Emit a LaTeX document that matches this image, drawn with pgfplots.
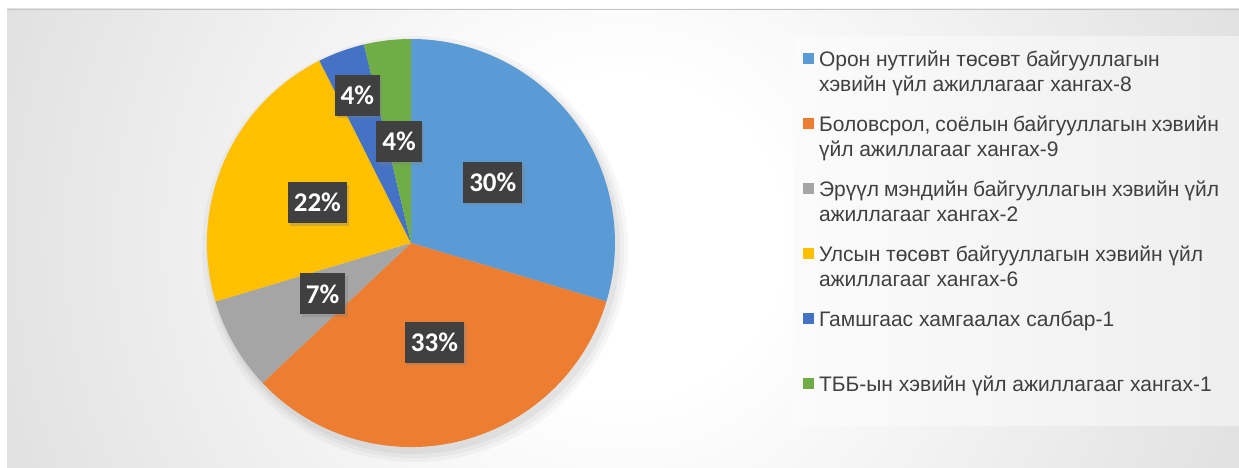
\documentclass[border=0pt]{standalone}
\usepackage{fontspec}
\setmainfont{Liberation Sans}
\newfontfamily\carlito{Carlito}
\usepackage{pgfplots}
\pgfplotsset{compat=1.18}
\usepackage{pgfplotstable}
\usetikzlibrary{shadows}

\definecolor{pie0}{HTML}{5B9BD5}
\definecolor{pie1}{HTML}{ED7D31}
\definecolor{pie2}{HTML}{A5A5A5}
\definecolor{pie3}{HTML}{FFC000}
\definecolor{pie4}{HTML}{4472C4}
\definecolor{pie5}{HTML}{70AD47}
\definecolor{legtext}{HTML}{404040}
\definecolor{lblfill}{HTML}{404040}

\pgfdeclareradialshading{bgshade}{\pgfpoint{0bp}{0bp}}{color(0bp)=(white); color(6bp)=(white); color(23.5bp)=(gray!22); color(25bp)=(gray!24); color(50bp)=(gray!30)}

% value = number of organisations, lr = label distance from centre (fraction of radius)
\pgfplotstableread{
value lr
8 0.5
9 0.5
2 0.5
6 0.5
1 0.77
1 0.5
}\piedata

\tikzset{pctlabel/.style={fill=lblfill, text=white,
  font=\carlito\bfseries\fontsize{27}{30}\selectfont,
  inner xsep=6pt, inner ysep=0pt, minimum height=41pt,
  drop shadow={opacity=0.35, shadow xshift=2.5pt, shadow yshift=-2.5pt}}}

\begin{document}
\begin{tikzpicture}[x=1pt,y=1pt]
\fill[white] (0,0) rectangle (1239,468);
\begin{scope}
\clip (7,0) rectangle (1239,459);
\shade[shading=bgshade] (-37,-430) rectangle (1283,890);
\end{scope}
\draw[gray!45, line width=0.8pt] (7,459) -- (1239,459);
\shade[left color=gray!3, right color=gray!13] (794,42) rectangle (1239,431);

\pgfmathsetmacro{\total}{0}
\pgfplotstableforeachcolumnelement{value}\of\piedata\as\val{%
  \pgfmathsetmacro{\total}{\total+\val}\global\let\total\total}

\begin{axis}[
  at={(411pt,225pt)}, anchor=center,
  scale only axis, width=408pt, height=408pt,
  xmin=-1, xmax=1, ymin=-1, ymax=1,
  hide axis, clip=false,
  legend style={at={(rel axis cs:1.4608,0.975)}, anchor=north west,
    draw=none, fill=none, inner sep=0pt, outer sep=0pt,
    row sep=15pt, column sep=5pt,
    cells={anchor=base west},
    nodes={inner sep=0pt, text=legtext, text height=17.5pt, text depth=32.5pt,
      font=\fontsize{21}{25}\selectfont}},
  legend image code/.code={\fill[#1] (0pt,2.5pt) rectangle (11pt,13.5pt);},
]
% soft shadow of the pie
\fill[black, opacity=0.03] ([shift={(4pt,-6pt)}]axis cs:0,0) circle[radius=213pt];
\fill[black, opacity=0.035] ([shift={(4pt,-6pt)}]axis cs:0,0) circle[radius=209pt];
\fill[black, opacity=0.045] ([shift={(3pt,-5pt)}]axis cs:0,0) circle[radius=206pt];

% slices
\def\cur{90}
\pgfplotsforeachungrouped \i in {0,...,5}{%
  \pgfplotstablegetelem{\i}{value}\of\piedata
  \let\v\pgfplotsretval
  \pgfmathsetmacro{\ea}{\cur-360*\v/\total}%
  \edef\temp{\noexpand\fill[pie\i] (axis cs:0,0) -- ++(\cur:204pt) arc[start angle=\cur, end angle=\ea, radius=204pt] -- cycle;}%
  \temp
  \let\cur\ea
}
% percentage labels
\def\cur{90}
\pgfplotsforeachungrouped \i in {0,...,5}{%
  \pgfplotstablegetelem{\i}{value}\of\piedata
  \let\v\pgfplotsretval
  \pgfplotstablegetelem{\i}{lr}\of\piedata
  \let\lr\pgfplotsretval
  \pgfmathsetmacro{\ma}{\cur-180*\v/\total}%
  \pgfmathsetmacro{\ea}{\cur-360*\v/\total}%
  \pgfmathsetmacro{\lx}{\lr*cos(\ma)}%
  \pgfmathsetmacro{\ly}{\lr*sin(\ma)}%
  \pgfmathtruncatemacro{\pc}{round(100*\v/\total)}%
  \edef\temp{\noexpand\node[pctlabel] at (axis cs:\lx,\ly) {\pc\noexpand\%};}%
  \temp
  \let\cur\ea
}

\addlegendimage{fill=pie0, draw=none}
\addlegendentry{\parbox[t]{400pt}{\strut Орон нутгийн төсөвт байгууллагын\\хэвийн үйл ажиллагааг хангах-8\strut}}
\addlegendimage{fill=pie1, draw=none}
\addlegendentry{\parbox[t]{400pt}{\strut Боловсрол, соёлын байгууллагын хэвийн\\үйл ажиллагааг хангах-9\strut}}
\addlegendimage{fill=pie2, draw=none}
\addlegendentry{\parbox[t]{400pt}{\strut Эрүүл мэндийн байгууллагын хэвийн үйл\\ажиллагааг хангах-2\strut}}
\addlegendimage{fill=pie3, draw=none}
\addlegendentry{\parbox[t]{400pt}{\strut Улсын төсөвт байгууллагын хэвийн үйл\\ажиллагааг хангах-6\strut}}
\addlegendimage{fill=pie4, draw=none}
\addlegendentry{\parbox[t]{400pt}{\strut Гамшгаас хамгаалах салбар-1\\\strut}}
\addlegendimage{fill=pie5, draw=none}
\addlegendentry{\parbox[t]{400pt}{\strut ТББ-ын хэвийн үйл ажиллагааг хангах-1\strut}}
\end{axis}
\pgfresetboundingbox
\path[use as bounding box] (0,0) rectangle (1239,468);
\end{tikzpicture}
\end{document}
